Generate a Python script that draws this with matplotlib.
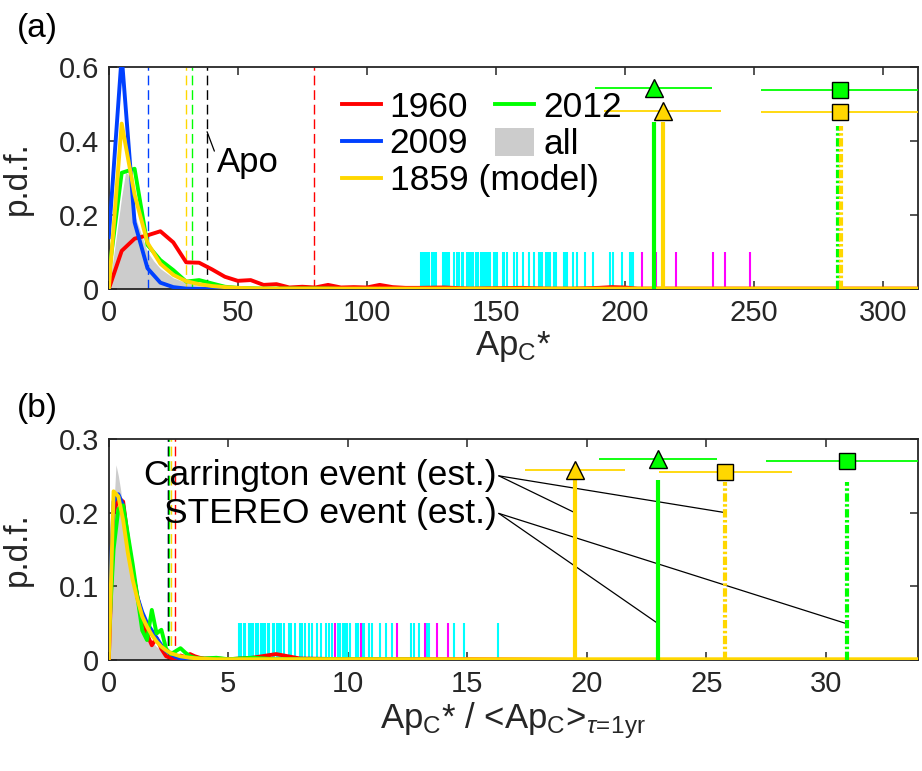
import numpy as np
import matplotlib
matplotlib.use('Agg')
import matplotlib.pyplot as plt
from matplotlib.patches import Patch

plt.rcParams['font.family'] = ['Liberation Sans', 'DejaVu Sans']
plt.rcParams['mathtext.fontset'] = 'custom'
plt.rcParams['mathtext.rm'] = 'Liberation Sans'
plt.rcParams['mathtext.it'] = 'Liberation Sans:italic'

RED = '#ff0000'
BLUE = '#0040ff'
GREEN = '#00ff00'
YELLOW = '#ffd700'
GRAY = '#cccccc'
AXC = '#262626'

# ---- panel (a): pdf of Ap_C* ----
x_a = [0, 5, 10, 15, 20, 25, 30, 35, 40, 45, 50, 55, 60, 65, 70, 75, 80, 85, 90, 95,
       100, 105, 110, 115, 120, 130, 140, 150, 160, 170, 180, 190, 195, 200, 205, 210,
       220, 240, 260, 280, 300, 320]
red_a = [0, 0.103, 0.136, 0.145, 0.156, 0.126, 0.072, 0.071, 0.053, 0.033, 0.022, 0.024,
         0.011, 0.013, 0.004, 0.006, 0.004, 0.011, 0.004, 0.005, 0.004, 0.011, 0.005, 0.003,
         0.003, 0.004, 0.001, 0.002, 0.003, 0.001, 0.001, 0.003, 0.005, 0.004, 0.001, 0.001,
         0.001, 0.001, 0.001, 0.001, 0.001, 0.001]
blue_a = [0.14, 0.63, 0.18, 0.056, 0.017, 0.005, 0.001, 0, 0, 0, 0, 0, 0, 0, 0, 0, 0, 0,
          0, 0, 0, 0, 0, 0, 0, 0, 0, 0, 0, 0, 0, 0, 0, 0, 0, 0, 0, 0, 0, 0, 0, 0]
yellow_a = [0, 0.447, 0.255, 0.125, 0.068, 0.038, 0.021, 0.013, 0.008, 0.005, 0.003, 0.002,
            0.001, 0.001, 0.001, 0.001, 0.001, 0.001, 0.001, 0.001, 0.001, 0.001, 0.001,
            0.001, 0.001, 0.001, 0.001, 0.001, 0.001, 0.001, 0.001, 0.001, 0.001, 0.001,
            0.001, 0.001, 0.001, 0.001, 0.001, 0.001, 0.001, 0.001]
green_a = [0.04, 0.314, 0.325, 0.119, 0.078, 0.051, 0.02, 0.024, 0.015, 0.006, 0.003, 0.002,
           0.001, 0.001, 0.001, 0.001, 0.001, 0.001, 0, 0, 0, 0, 0, 0, 0, 0, 0, 0, 0, 0, 0,
           0, 0, 0, 0, 0, 0, 0, 0, 0, 0, 0]
x_all_a = [0, 2.5, 5, 6.5, 7.5, 10, 12.5, 15, 17.5, 20, 25, 30, 35, 40, 50, 60, 80]
all_a = [0, 0.12, 0.25, 0.315, 0.31, 0.2, 0.15, 0.1, 0.075, 0.055, 0.03, 0.017, 0.01,
         0.006, 0.003, 0.001, 0]

# thresholds (dashed)
thr_a = {'blue': 15.2, 'yellow': 30.0, 'green': 32.2, 'black': 38.1, 'red': 79.6}

# large storms
cyan_a = [120.9, 121.7, 122.5, 123.3, 124.0, 125.2, 126.0, 126.8, 129.5, 130.3, 131.1,
          131.9, 134.0, 134.8, 135.7, 136.8, 137.3, 138.7, 139.5, 140.3, 141.2, 142.3,
          143.0, 144.2, 145.0, 145.8, 146.6, 147.4, 147.8, 149.2, 150.0, 150.5, 152.7,
          153.3, 154.3, 157.0, 158.2, 160.5, 162.8, 164.7, 166.7, 167.5, 167.9, 169.4,
          170.2, 170.9, 172.5, 173.2, 176.4, 177.2, 177.5, 179.9, 181.4, 184.5, 187.6,
          194.2, 195.4, 198.9, 201.9, 202.7, 203.1]
magenta_a = [206.7, 212.2, 220.0, 234.1, 238.8, 248.7]

# events: [STEREO, Carrington]
tri_x_a = [211.2, 214.7]
tri_y_a = [0.544, 0.482]
tri_err_a = [22.7, 22.7]
sq_x_a = [283.3, 283.3]
sq_y_a = [0.538, 0.479]
sq_err_a = [30.6, 30.6]
solid_x_a = [211.2, 214.7]
dashdot_x_a = [282.6, 283.7]

# ---- panel (b): pdf of Ap_C* / <Ap_C> ----
x_b = [0, 0.2, 0.4, 0.6, 0.8, 1.0, 1.2, 1.4, 1.6, 1.8, 2.0, 2.2, 2.4, 2.6, 2.8, 3.0, 3.2,
       3.4, 3.6, 3.8, 4.0, 4.5, 5.0, 6.0, 7.0, 8.0, 10.0, 15.0, 20.0, 35.0]
red_b = [0, 0.2, 0.22, 0.215, 0.165, 0.12, 0.085, 0.06, 0.035, 0.02, 0.03, 0.015, 0.005,
         0.003, 0.002, 0.006, 0.004, 0.008, 0.005, 0.003, 0.002, 0.002, 0.001, 0.003,
         0.008, 0.002, 0.001, 0.001, 0, 0]
blue_b = [0.05, 0.215, 0.225, 0.21, 0.16, 0.12, 0.085, 0.065, 0.05, 0.04, 0.03, 0.02,
          0.012, 0.008, 0.004, 0.002, 0.001, 0.001, 0.001, 0, 0, 0, 0, 0, 0, 0, 0, 0, 0, 0]
yellow_b = [0, 0.229, 0.222, 0.19, 0.145, 0.109, 0.082, 0.059, 0.045, 0.034, 0.025, 0.018,
            0.013, 0.009, 0.007, 0.005, 0.004, 0.003, 0.0025, 0.002, 0.0015, 0.001, 0.001,
            0.001, 0.001, 0.001, 0.001, 0.001, 0.001, 0.001]
green_b = [0.03, 0.15, 0.205, 0.21, 0.17, 0.13, 0.085, 0.04, 0.027, 0.068, 0.036, 0.041,
           0.015, 0.008, 0.012, 0.016, 0.01, 0.005, 0.003, 0.002, 0.002, 0.003, 0.001,
           0.003, 0.001, 0.001, 0.001, 0, 0, 0]
x_all_b = [0, 0.1, 0.2, 0.3, 0.4, 0.5, 0.6, 0.8, 1.0, 1.2, 1.4, 1.6, 1.8, 2.0, 2.3, 2.6,
           3.0, 3.5, 4.0]
all_b = [0, 0.06, 0.2, 0.265, 0.25, 0.23, 0.2, 0.14, 0.1, 0.07, 0.05, 0.035, 0.025, 0.018,
         0.01, 0.006, 0.003, 0.001, 0]

thr_b = {'blue': 2.47, 'black': 2.47, 'green': 2.53, 'yellow': 2.62, 'red': 2.75}

cyan_b = [5.45, 5.55, 5.65, 5.72, 5.85, 5.95, 6.05, 6.15, 6.25, 6.35, 6.45, 6.52, 6.65,
          6.72, 6.85, 6.93, 7.05, 7.12, 7.2, 7.35, 7.55, 7.62, 7.78, 8.0, 8.08, 8.2, 8.38,
          8.5, 8.7, 8.9, 9.08, 9.2, 9.33, 9.6, 9.67, 9.78, 9.87, 9.95, 10.08, 10.36, 10.44,
          10.62, 10.69, 10.88, 11.0, 11.34, 11.59, 11.84, 12.66, 12.78, 12.97, 13.3, 13.38,
          14.44, 14.85, 16.28]
magenta_b = [9.48, 10.55, 12.05, 13.22, 13.72, 14.19]

# events: [Carrington, STEREO]
tri_x_b = [19.5, 23.0]
tri_y_b = [0.258, 0.273]
tri_err_b = [2.1, 2.47]
sq_x_b = [25.8, 30.9]
sq_y_b = [0.255, 0.27]
sq_err_b = [2.78, 3.4]
solid_x_b = [19.5, 23.0]
dashdot_x_b = [25.8, 30.9]

colors = {'blue': BLUE, 'yellow': YELLOW, 'green': GREEN, 'black': 'k', 'red': RED}
ev_colors = [GREEN, YELLOW]

fig = plt.figure(figsize=(9.22, 7.71), dpi=100)
ax1 = fig.add_axes([0.118, 0.6252, 0.8774, 0.2879])
ax2 = fig.add_axes([0.118, 0.144, 0.8774, 0.2866])


def style_axes(ax):
    ax.tick_params(direction='in', length=6, width=1.1, colors=AXC, labelsize=21,
                   top=True, right=True, pad=7)
    for s in ax.spines.values():
        s.set_color(AXC)
        s.set_linewidth(1.3)


# panel (a)
ax1.fill_between(x_all_a, all_a, color=GRAY, lw=0, zorder=1)
h_red, = ax1.plot(x_a, red_a, color=RED, lw=2.8, zorder=3)
h_grn, = ax1.plot(x_a, green_a, color=GREEN, lw=2.8, zorder=3)
h_blu, = ax1.plot(x_a, blue_a, color=BLUE, lw=2.8, zorder=3)
h_yel, = ax1.plot(x_a, yellow_a, color=YELLOW, lw=2.8, zorder=3)
for k, v in thr_a.items():
    ax1.axvline(v, color=colors[k], lw=1, ls=(0, (7, 3.5)), zorder=2)
ax1.vlines(cyan_a, 0, 0.1, color='#00ffff', lw=1.5, zorder=2)
ax1.vlines(magenta_a, 0, 0.1, color='#ff00ff', lw=1.5, zorder=2)
ax1.vlines(solid_x_a, 0, 0.45, color=ev_colors, lw=3, zorder=4)
for xv, c in zip(dashdot_x_a, ev_colors):
    ax1.vlines(xv, 0, 0.44, color=c, lw=3, ls=(0, (2, 0.6, 0.6, 0.6)), zorder=4)
for i, c in enumerate(ev_colors):
    ax1.errorbar(tri_x_a[i], tri_y_a[i], xerr=tri_err_a[i], fmt='^', color=c, ecolor=c,
                 elinewidth=1.3, capsize=0, ms=13, mec='k', mew=1, zorder=5)
    ax1.errorbar(sq_x_a[i], sq_y_a[i], xerr=sq_err_a[i], fmt='s', color=c, ecolor=c,
                 elinewidth=1.3, capsize=0, ms=11.5, mec='k', mew=1, zorder=5)
ax1.annotate('Apo', xy=(thr_a['black'], 0.425), xytext=(42.0, 0.342), fontsize=25,
             va='center', ha='left',
             arrowprops=dict(arrowstyle='-', lw=0.9, color='k', shrinkA=0, shrinkB=0,
                             relpos=(0, 0.62)))
ax1.set_xlim(0, 313.6)
ax1.set_ylim(0, 0.6)
ax1.set_xticks([0, 50, 100, 150, 200, 250, 300])
ax1.set_yticks([0, 0.2, 0.4, 0.6])
ax1.set_yticklabels(['0', '0.2', '0.4', '0.6'])
style_axes(ax1)
ax1.set_xlabel(r'Ap$_\mathregular{C}$*', fontsize=25, color=AXC, labelpad=2)
ax1.set_ylabel('p.d.f.', fontsize=24, color=AXC)
ax1.yaxis.set_label_coords(-0.094, 0.5)

leg_kw = dict(loc='upper left', frameon=False, fontsize=25.5, handlelength=1.1,
              handletextpad=0.25, labelspacing=0.11, borderpad=0, borderaxespad=0)
leg1 = ax1.legend([h_red, h_blu, h_yel], ['1960', '2009', '1859 (model)'],
                  bbox_to_anchor=(0.288, 0.894), **leg_kw)
ax1.add_artist(leg1)
ax1.legend([h_grn, Patch(facecolor=GRAY, edgecolor='none')], ['2012', 'all'],
           bbox_to_anchor=(0.478, 0.894), handleheight=0.85, **leg_kw)

# panel (b)
ax2.fill_between(x_all_b, all_b, color=GRAY, lw=0, zorder=1)
ax2.plot(x_b, red_b, color=RED, lw=2.8, zorder=3)
ax2.plot(x_b, blue_b, color=BLUE, lw=2.8, zorder=3)
ax2.plot(x_b, green_b, color=GREEN, lw=2.8, zorder=3)
ax2.plot(x_b, yellow_b, color=YELLOW, lw=2.8, zorder=3)
for k, v in thr_b.items():
    ax2.axvline(v, color=colors[k], lw=1, ls=(0, (7, 3.5)), zorder=2)
ax2.vlines(cyan_b, 0, 0.05, color='#00ffff', lw=1.5, zorder=2)
ax2.vlines(magenta_b, 0, 0.05, color='#ff00ff', lw=1.5, zorder=2)
ev_colors_b = [YELLOW, GREEN]
ax2.vlines(solid_x_b, 0, 0.245, color=ev_colors_b, lw=3, zorder=4)
for xv, c in zip(dashdot_x_b, ev_colors_b):
    ax2.vlines(xv, 0, 0.242, color=c, lw=3, ls=(0, (2, 0.6, 0.6, 0.6)), zorder=4)
for i, c in enumerate(ev_colors_b):
    ax2.errorbar(tri_x_b[i], tri_y_b[i], xerr=tri_err_b[i], fmt='^', color=c, ecolor=c,
                 elinewidth=1.3, capsize=0, ms=13, mec='k', mew=1, zorder=5)
    ax2.errorbar(sq_x_b[i], sq_y_b[i], xerr=sq_err_b[i], fmt='s', color=c, ecolor=c,
                 elinewidth=1.3, capsize=0, ms=11.5, mec='k', mew=1, zorder=5)

txt_x = 16.32
ax2.text(txt_x - 0.1, 0.25, 'Carrington event (est.)', fontsize=25.5, ha='right',
         va='center')
ax2.text(txt_x - 0.1, 0.199, 'STEREO event (est.)', fontsize=25.5, ha='right', va='center')
for xv in [solid_x_b[0], dashdot_x_b[0]]:
    ax2.annotate('', xy=(xv, 0.2), xytext=(txt_x, 0.25),
                 arrowprops=dict(arrowstyle='-', lw=0.9, color='k', shrinkA=0, shrinkB=0))
for xv in [solid_x_b[1], dashdot_x_b[1]]:
    ax2.annotate('', xy=(xv, 0.049), xytext=(txt_x, 0.199),
                 arrowprops=dict(arrowstyle='-', lw=0.9, color='k', shrinkA=0, shrinkB=0))

ax2.set_xlim(0, 33.85)
ax2.set_ylim(0, 0.3)
ax2.set_xticks([0, 5, 10, 15, 20, 25, 30])
ax2.set_yticks([0, 0.1, 0.2, 0.3])
ax2.set_yticklabels(['0', '0.1', '0.2', '0.3'])
style_axes(ax2)
ax2.set_xlabel(r'Ap$_\mathregular{C}$* / <Ap$_\mathregular{C}$>'
               r'$_{\tau\!=\!\mathregular{1yr}}$',
               fontsize=25, color=AXC, labelpad=2)
ax2.set_ylabel('p.d.f.', fontsize=24, color=AXC)
ax2.yaxis.set_label_coords(-0.094, 0.5)

fig.text(17 / 922, 1 - 28 / 771, '(a)', fontsize=24, va='center', ha='left')
fig.text(17 / 922, 1 - 409 / 771, '(b)', fontsize=24, va='center', ha='left')

fig.savefig('out.png', dpi=100)
